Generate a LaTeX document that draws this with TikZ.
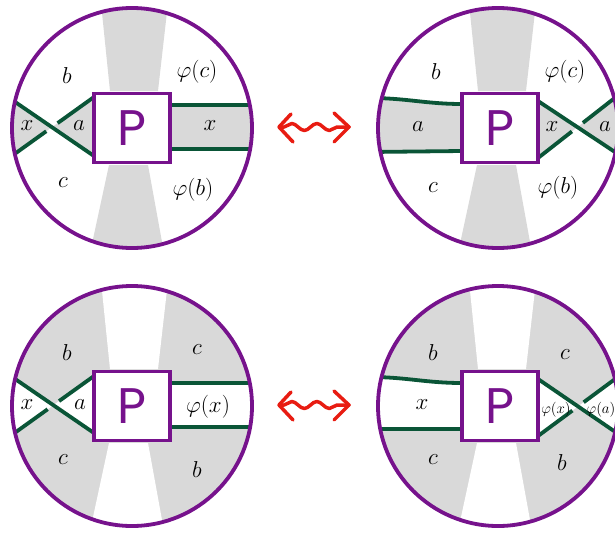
\documentclass[tikz,border=0pt]{standalone}
\usepackage{fix-cm}
\usepackage{fontspec}
\newfontfamily\pfont{Poppins}
\usetikzlibrary{decorations.pathmorphing,calc}
\definecolor{pur}{RGB}{118,18,140}
\definecolor{grn}{RGB}{10,85,55}
\definecolor{bandgray}{RGB}{217,217,217}
\definecolor{arr}{RGB}{232,28,18}
\tikzset{
  rim/.style={draw=pur,line width=3.8pt},
  pbox/.style={draw=pur,line width=3.8pt,fill=white,minimum width=76pt,minimum height=69pt,inner sep=0pt,font=\pfont\fontsize{50}{50}\selectfont,text=pur},
  strand/.style={draw=grn,line width=3.8pt},
  lbl/.style={inner sep=0pt,font=\fontsize{23}{27}\selectfont},
  slbl/.style={inner sep=0pt,font=\fontsize{15}{18}\selectfont},
  wave/.style={draw=arr,line width=3.5pt,line cap=round,line join=round},
  wavy/.style={wave,decorate,decoration={snake,segment length=25pt,amplitude=3.5pt,pre length=5pt,post length=5pt}},
}
\begin{document}
\begin{tikzpicture}[x=1pt,y=-1pt]
\useasboundingbox (0,0) rectangle (615,533);
% ---------------- panel 1 (top left)
\begin{scope}[shift={(132,128)}]
  \coordinate (c1) at (0,0);
  \begin{scope}
    \clip (c1) circle (120);
    \fill[bandgray] (-22,-37) -- (-31,-125) -- (36,-125) -- (26,-37) -- cycle;
    \fill[bandgray] (-23,37) -- (-42,125) -- (32,125) -- (16,37) -- cycle;
    \coordinate (p1a) at (-130,-35); \coordinate (p1b) at (-38,28);
    \coordinate (p1c) at (-130,35);  \coordinate (p1d) at (-38,-31);
    \coordinate (x1) at (intersection of p1a--p1b and p1c--p1d);
    \fill[bandgray] (x1) -- (p1a) -- (p1c) -- cycle;
    \fill[bandgray] (x1) -- (p1b) -- (p1d) -- cycle;
    \coordinate (s1a) at (38,-23); \coordinate (s1b) at (130,-23);
    \coordinate (s1c) at (38,21);  \coordinate (s1d) at (130,21);
    \fill[bandgray] (s1a) rectangle (s1d);
    \draw[strand] (p1c) -- ($(x1)!7pt!(p1c)$);
    \draw[strand] ($(x1)!7pt!(p1d)$) -- (p1d);
    \draw[strand] (p1a) -- (p1b);
    \draw[strand] (s1a) -- (s1b);
    \draw[strand] (s1c) -- (s1d);
  \end{scope}
  \node[pbox] (P1) at (c1) {P};
  \draw[rim] (c1) circle (120);
  \node[lbl] (l1b) at (-65,-52) {$b$};
  \node[lbl] (l1c) at (-69,55) {$c$};
  \node[lbl] (l1pc) at (65,-56) {$\varphi(c)$};
  \node[lbl] (l1pb) at (61,62) {$\varphi(b)$};
  \node[lbl] (l1x) at (-105,-2) {$x$};
  \node[lbl] (l1a) at (-53,-2) {$a$};
  \node[lbl] (l1x2) at (78,-2) {$x$};
\end{scope}
% ---------------- panel 2 (top right)
\begin{scope}[shift={(500,128)}]
  \coordinate (c2) at (-2,0);
  \coordinate (b2) at (0,0);
  \begin{scope}
    \clip (c2) circle (120);
    \fill[bandgray] (-22,-37) -- (-31,-125) -- (36,-125) -- (26,-37) -- cycle;
    \fill[bandgray] (-23,37) -- (-42,125) -- (32,125) -- (16,37) -- cycle;
    \coordinate (s2a) at (-130,-30); \coordinate (s2b) at (-38,-24);
    \coordinate (s2c) at (-130,24);  \coordinate (s2d) at (-38,23);
    \fill[bandgray] (s2a) to[out=0,in=180] (s2b) -- (s2d) -- (s2c) -- cycle;
    \coordinate (q2a) at (38,-27); \coordinate (q2b) at (130,34);
    \coordinate (q2c) at (38,30);  \coordinate (q2d) at (130,-42);
    \coordinate (x2) at (intersection of q2a--q2b and q2c--q2d);
    \fill[bandgray] (x2) -- (q2a) -- (q2c) -- cycle;
    \fill[bandgray] (x2) -- (q2b) -- (q2d) -- cycle;
    \draw[strand] (s2a) to[out=0,in=180] (s2b);
    \draw[strand] (s2c) -- (s2d);
    \draw[strand] (q2c) -- ($(x2)!7pt!(q2c)$);
    \draw[strand] ($(x2)!7pt!(q2d)$) -- (q2d);
    \draw[strand] (q2a) -- (q2b);
  \end{scope}
  \node[pbox] (P2) at (b2) {P};
  \draw[rim] (c2) circle (120);
  \node[lbl] (l2b) at (-64,-56) {$b$};
  \node[lbl] (l2c) at (-67,60) {$c$};
  \node[lbl] (l2pc) at (65,-56) {$\varphi(c)$};
  \node[lbl] (l2pb) at (58,60) {$\varphi(b)$};
  \node[lbl] (l2a) at (-82,-1) {$a$};
  \node[lbl] (l2x) at (52,-1) {$x$};
  \node[lbl] (l2a2) at (105,-1) {$a$};
\end{scope}
% ---------------- panel 3 (bottom left)
\begin{scope}[shift={(132,406)}]
  \coordinate (c3) at (0,0);
  \begin{scope}
    \clip (c3) circle (120);
    \fill[bandgray] (c3) circle (125);
    \fill[white] (-22,-37) -- (-31,-125) -- (36,-125) -- (26,-37) -- cycle;
    \fill[white] (-23,37) -- (-42,125) -- (32,125) -- (16,37) -- cycle;
    \coordinate (p3a) at (-130,-36); \coordinate (p3b) at (-38,27);
    \coordinate (p3c) at (-130,36);  \coordinate (p3d) at (-38,-30);
    \coordinate (x3) at (intersection of p3a--p3b and p3c--p3d);
    \fill[white] (x3) -- (p3a) -- (p3c) -- cycle;
    \fill[white] (x3) -- (p3b) -- (p3d) -- cycle;
    \coordinate (s3a) at (38,-23); \coordinate (s3b) at (130,-23);
    \coordinate (s3c) at (38,21);  \coordinate (s3d) at (130,21);
    \fill[white] (s3a) rectangle (s3d);
    \draw[strand] (p3c) -- ($(x3)!7pt!(p3c)$);
    \draw[strand] ($(x3)!7pt!(p3d)$) -- (p3d);
    \draw[strand] (p3a) -- (p3b);
    \draw[strand] (s3a) -- (s3b);
    \draw[strand] (s3c) -- (s3d);
  \end{scope}
  \node[pbox] (P3) at (c3) {P};
  \draw[rim] (c3) circle (120);
  \node[lbl] (l3b) at (-65,-53) {$b$};
  \node[lbl] (l3c) at (-69,54) {$c$};
  \node[lbl] (l3c2) at (65,-56) {$c$};
  \node[lbl] (l3b2) at (65,64) {$b$};
  \node[lbl] (l3px) at (76,1) {$\varphi(x)$};
  \node[lbl] (l3x) at (-105,-1) {$x$};
  \node[lbl] (l3a) at (-52,-1) {$a$};
\end{scope}
% ---------------- panel 4 (bottom right)
\begin{scope}[shift={(500,406)}]
  \coordinate (c4) at (-2,0);
  \coordinate (b4) at (0,0);
  \begin{scope}
    \clip (c4) circle (120);
    \fill[bandgray] (c4) circle (125);
    \fill[white] (-22,-37) -- (-31,-125) -- (36,-125) -- (26,-37) -- cycle;
    \fill[white] (-23,37) -- (-42,125) -- (32,125) -- (16,37) -- cycle;
    \coordinate (s4a) at (-130,-29); \coordinate (s4b) at (-38,-23);
    \coordinate (s4c) at (-130,23);  \coordinate (s4d) at (-38,23);
    \fill[white] (s4a) to[out=0,in=180] (s4b) -- (s4d) -- (s4c) -- cycle;
    \coordinate (q4a) at (38,-27); \coordinate (q4b) at (130,36);
    \coordinate (q4c) at (38,30);  \coordinate (q4d) at (130,-38);
    \coordinate (x4) at (intersection of q4a--q4b and q4c--q4d);
    \fill[white] (x4) -- (q4a) -- (q4c) -- cycle;
    \fill[white] (x4) -- (q4b) -- (q4d) -- cycle;
    \draw[strand] (s4a) to[out=0,in=180] (s4b);
    \draw[strand] (s4c) -- (s4d);
    \draw[strand] (q4c) -- ($(x4)!7pt!(q4c)$);
    \draw[strand] ($(x4)!7pt!(q4d)$) -- (q4d);
    \draw[strand] (q4a) -- (q4b);
  \end{scope}
  \node[pbox] (P4) at (b4) {P};
  \draw[rim] (c4) circle (120);
  \node[lbl] (l4b) at (-67,-53) {$b$};
  \node[lbl] (l4c) at (-67,54) {$c$};
  \node[lbl] (l4c2) at (65,-51) {$c$};
  \node[lbl] (l4b2) at (62,57) {$b$};
  \node[lbl] (l4x) at (-78,-1) {$x$};
  \node[slbl] (l4px) at (56,4) {$\varphi(x)$};
  \node[slbl] (l4pa) at (101,4) {$\varphi(a)$};
\end{scope}
% ---------------- arrows
\coordinate (al1) at (279,127); \coordinate (ar1) at (349,127);
\draw[wavy] (al1) -- (ar1);
\draw[wave] ($(al1)+(12,-13)$) -- (al1) -- ($(al1)+(14,15)$);
\draw[wave] ($(ar1)+(-15,-14)$) -- (ar1) -- ($(ar1)+(-15,15)$);
\coordinate (al2) at (279,405); \coordinate (ar2) at (349,405);
\draw[wavy] (al2) -- (ar2);
\draw[wave] ($(al2)+(12,-13)$) -- (al2) -- ($(al2)+(14,15)$);
\draw[wave] ($(ar2)+(-15,-14)$) -- (ar2) -- ($(ar2)+(-15,15)$);
\end{tikzpicture}
\end{document}
